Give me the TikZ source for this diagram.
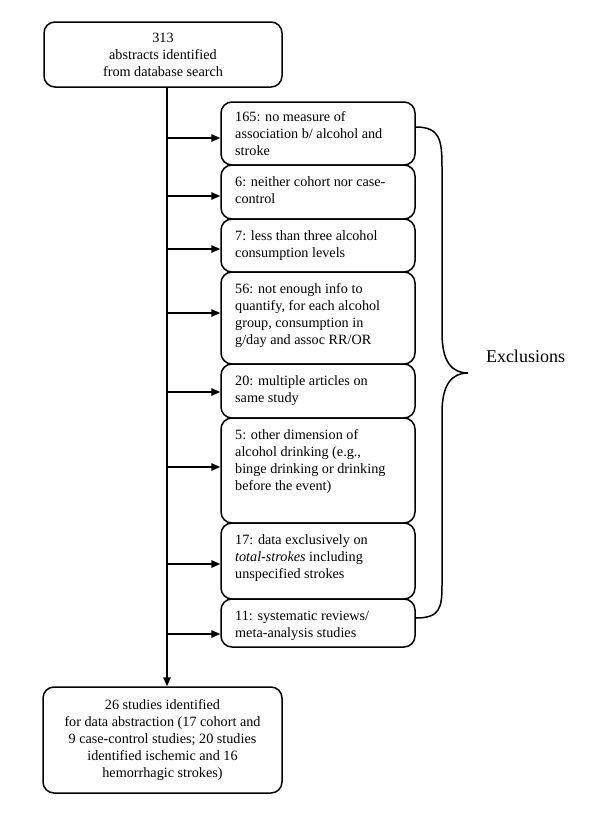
\documentclass[tikz,border=0pt]{standalone}
\usepackage{fontspec}
\setmainfont{Liberation Serif}
\usetikzlibrary{arrows.meta}
\begin{document}
\begin{tikzpicture}[x=1pt,y=-1pt,
  every node/.style={font=\fontsize{14.2}{17}\selectfont},
  boxstyle/.style={draw, line width=1.5pt, rounded corners=11pt, inner sep=0pt},
  exbox/.style={boxstyle, minimum width=194pt},
  extext/.style={anchor=north west, align=left, inner sep=0pt},
  arr/.style={line width=1.5pt, -{Triangle[length=9pt,width=7.5pt]}},
  ln/.style={line width=1.5pt}]
\useasboundingbox (0,0) rectangle (600,814);

% top and bottom boxes
\node[boxstyle, minimum width=238pt, minimum height=65pt, align=center] (top) at (163,54.5)
  {313\\abstracts identified\\from database search};
\node[boxstyle, minimum width=239pt, minimum height=106pt, align=center] (bot) at (162.5,740)
  {26 studies identified\\for data abstraction (17 cohort and\\9 case-control studies; 20 studies\\identified ischemic and 16\\hemorrhagic strokes)};

% exclusion boxes
\node[exbox, minimum height=63pt] (e1) at (318,133.5) {};
\node[exbox, minimum height=54pt] (e2) at (318,192) {};
\node[exbox, minimum height=53pt] (e3) at (318,245.5) {};
\node[exbox, minimum height=92pt] (e4) at (318,318) {};
\node[exbox, minimum height=54pt] (e5) at (318,391) {};
\node[exbox, minimum height=105pt] (e6) at (318,470.5) {};
\node[exbox, minimum height=76pt] (e7) at (318,561) {};
\node[exbox, minimum height=48pt] (e8) at (318,623) {};

\node[extext] (t1) at (235,109) {\strut 165: no measure of\\association b/ alcohol and\\stroke};
\node[extext] (t2) at (235,174) {\strut 6: neither cohort nor case-\\control};
\node[extext] (t3) at (235,228) {\strut 7: less than three alcohol\\consumption levels};
\node[extext] (t4) at (235,281) {\strut 56: not enough info to\\quantify, for each alcohol\\group, consumption in\\g/day and assoc RR/OR};
\node[extext] (t5) at (235,373) {\strut 20: multiple articles on\\same study};
\node[extext] (t6) at (235,427) {\strut 5: other dimension of\\alcohol drinking (e.g.,\\binge drinking or drinking\\before the event)};
\node[extext] (t7) at (235,532) {\strut 17: data exclusively on\\\textit{total-strokes} including\\unspecified strokes};
\node[extext] (t8) at (235,608) {\strut 11: systematic reviews/\\meta-analysis studies};

% spine
\coordinate (s) at (167,0);
\draw[arr] (s |- top.south) -- (s |- bot.north);

% arrow end points on the exclusion boxes
\coordinate (a1) at ([yshift=-4.5pt]e1.west);
\coordinate (a2) at ([yshift=-4pt]e2.west);
\coordinate (a3) at ([yshift=-3.5pt]e3.west);
\coordinate (a4) at ([yshift=5pt]e4.west);
\coordinate (a5) at ([yshift=-1pt]e5.west);
\coordinate (a6) at ([yshift=3.5pt]e6.west);
\coordinate (a7) at ([yshift=-3pt]e7.west);
\coordinate (a8) at ([yshift=-11pt]e8.west);
\foreach \i in {1,...,8}{
  \draw[arr] (s |- a\i) -- (a\i);
}

% brace
\coordinate (b1) at ([yshift=6.5pt]e1.east);
\coordinate (b2) at ([yshift=5pt]e8.east);
\coordinate (tip) at (468,373);
\draw[ln] (b1) .. controls (440,127) and (442,140) .. (442,167)
  -- (442,333) .. controls (442,362) and (452,373) .. (tip)
  .. controls (452,373) and (442,384) .. (442,413)
  -- (442,585) .. controls (442,608) and (440,618) .. (b2);

\node[font=\fontsize{18}{21}\selectfont] (excl) at (525.5,356) {Exclusions};
\end{tikzpicture}
\end{document}
